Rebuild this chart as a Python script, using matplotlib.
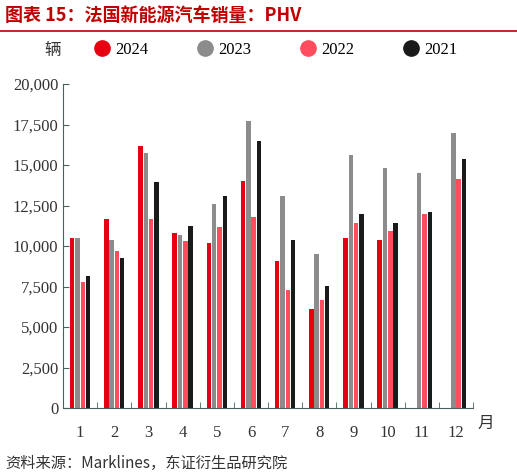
import numpy as np
import matplotlib.pyplot as plt
from matplotlib.lines import Line2D

plt.rcParams['font.family'] = ['Liberation Serif', 'Noto Sans CJK SC']

months = [str(i) for i in range(1, 13)]
s2024 = [10500, 11650, 16200, 10800, 10200, 14000, 9100, 6100, 10500, 10400, np.nan, np.nan]
s2023 = [10500, 10400, 15750, 10700, 12600, 17750, 13100, 9500, 15600, 14800, 14500, 17000]
s2022 = [7750, 9700, 11650, 10300, 11200, 11800, 7300, 6700, 11400, 10950, 12000, 14150]
s2021 = [8150, 9250, 13950, 11250, 13100, 16500, 10400, 7550, 12000, 11400, 12100, 15400]
series = [("2024", s2024, "#e60012"), ("2023", s2023, "#8c8c8c"),
          ("2022", s2022, "#ff4d5e"), ("2021", s2021, "#1a1a1a")]

fig = plt.figure(figsize=(5.17, 4.75), dpi=100)
ax = fig.add_axes([0.122, 0.141, 0.793, 0.682])

x = np.arange(len(months))
w = 0.13
step = 0.155
handles = []
for i, (name, vals, col) in enumerate(series):
    ax.bar(x + (i - 1.5) * step, vals, width=w, color=col, zorder=2)
    handles.append(Line2D([], [], marker='o', ls='', color=col, markersize=11, label=name))

ax.set_xlim(-0.5, 11.5)
ax.set_ylim(0, 20000)
ax.set_yticks(range(0, 20001, 2500))
ax.set_yticklabels([f"{v:,}" for v in range(0, 20001, 2500)], fontsize=12, color="#333333")
ax.set_xticks(x)
ax.set_xticklabels(months, fontsize=12, color="#333333")
ax.set_xticks(np.arange(-0.5, 12, 1), minor=True)
ax.tick_params(axis='x', which='major', length=0, pad=12)
ax.tick_params(axis='x', which='minor', length=4, direction='in', color="#4a6060")
ax.tick_params(axis='y', length=4, direction='in', color="#4a6060")
for s in ['top', 'right']:
    ax.spines[s].set_visible(False)
for s in ['left', 'bottom']:
    ax.spines[s].set_color("#4a6060")
ax.text(1.01, -0.06, "月", transform=ax.transAxes, fontsize=12, family='Noto Sans CJK SC', color="#333333")

fig.text(0.085, 0.893, "辆", fontsize=12, family='Noto Sans CJK SC', color="#333333", va='center')
fig.legend(handles=handles, loc='center left', bbox_to_anchor=(0.155, 0.895), ncol=4, frameon=False,
           fontsize=12, handlelength=0.8, columnspacing=3.0, handletextpad=0.4)

fig.text(0.01, 0.968, "图表 15：法国新能源汽车销量：PHV", fontsize=13, fontweight='bold',
         color="#c00000", family=['Noto Sans CJK SC'], va='center')
fig.add_artist(plt.Line2D([0.0, 1.0], [0.935, 0.935], color="#c00000", lw=1.2))
fig.text(0.01, 0.025, "资料来源：Marklines，东证衍生品研究院", fontsize=11,
         family=['Noto Sans CJK SC'], color="#333333", va='center')

fig.savefig("out.png")
